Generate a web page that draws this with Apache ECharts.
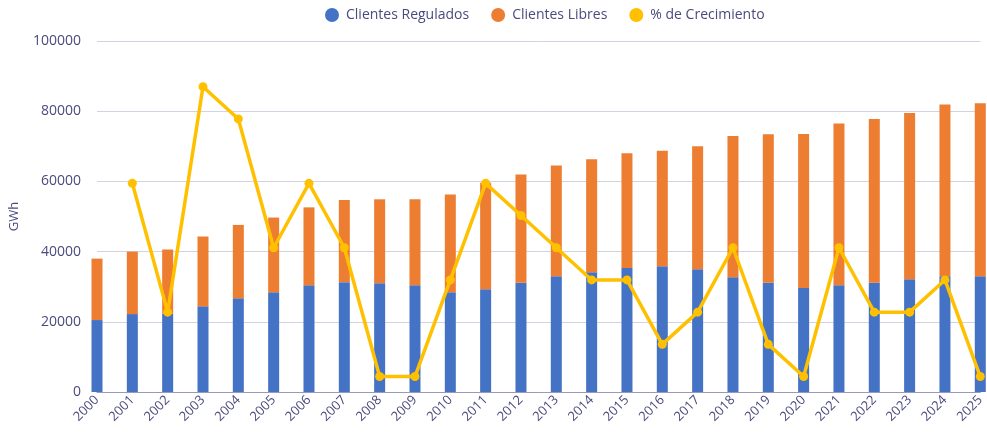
<!DOCTYPE html>
<html lang="es">
<head>
<meta charset="utf-8">
<script src="https://cdn.jsdelivr.net/npm/echarts@6/dist/echarts.min.js"></script>
<style>
    html, body { margin: 0; padding: 0; background: #fff; }
    #main { width: 987px; height: 434px; }
</style>
</head>
<body>
<div id="main"></div>
<script>
    // años
    var years = ['2000', '2001', '2002', '2003', '2004', '2005', '2006', '2007', '2008', '2009',
        '2010', '2011', '2012', '2013', '2014', '2015', '2016', '2017', '2018', '2019',
        '2020', '2021', '2022', '2023', '2024', '2025'];

    // GWh
    var regulados = [20500, 22200, 22300, 24400, 26700, 28400, 30400, 31300, 31000, 30400,
        28400, 29300, 31100, 33000, 34100, 35300, 35800, 35000, 32700, 31100,
        29600, 30400, 31100, 32100, 33000, 33000];
    var totales = [38000, 40000, 40600, 44300, 47600, 49700, 52600, 54700, 54900, 54900,
        56300, 59600, 62000, 64500, 66300, 68000, 68700, 70000, 72900, 73400,
        73500, 76500, 77800, 79500, 81900, 82300];
    var libres = totales.map(function (t, i) { return t - regulados[i]; });

    // % de crecimiento
    var crecimiento = [null, 6, 2, 9, 8, 4, 6, 4, 0, 0,
        3, 6, 5, 4, 3, 3, 1, 2, 4, 1,
        0, 4, 2, 2, 3, 0];

    var yTicks = [0, 20000, 40000, 60000, 80000, 100000];

    var textColor = '#4b4a7d';

    var option = {
        animation: false,
        textStyle: { fontFamily: 'Open Sans' },
        legend: {
            top: 3,
            left: 320,
            itemWidth: 18,
            itemHeight: 14,
            itemGap: 22,
            icon: 'circle',
            textStyle: { color: textColor, fontSize: 14, fontFamily: 'Open Sans' },
            data: ['Clientes Regulados', 'Clientes Libres', '% de Crecimiento']
        },
        grid: { left: 96, right: 2, top: 41, bottom: 42 },
        xAxis: {
            type: 'category',
            data: years,
            boundaryGap: false,
            axisLine: { lineStyle: { color: '#9a98bd', width: 1 } },
            axisTick: { show: false },
            axisLabel: {
                interval: 0,
                rotate: 45,
                margin: 6,
                color: textColor,
                fontSize: 13,
                fontFamily: 'Open Sans'
            }
        },
        yAxis: [{
            type: 'value',
            min: yTicks[0],
            max: yTicks[yTicks.length - 1],
            interval: 20000,
            name: 'GWh',
            nameLocation: 'middle',
            nameGap: 76,
            nameRotate: 90,
            nameTextStyle: { color: textColor, fontSize: 13, fontFamily: 'Open Sans' },
            axisLine: { show: false },
            axisTick: { show: false },
            axisLabel: {
                color: textColor, fontSize: 14, margin: 16, fontFamily: 'Open Sans',
                formatter: function (v) { return String(v); }
            },
            splitLine: { lineStyle: { color: '#d3d2e0', width: 1 } }
        }, {
            type: 'value',
            show: false,
            min: -0.48,
            max: 10.42,
            splitLine: { show: false }
        }],
        series: [{
            name: 'Clientes Regulados',
            type: 'bar',
            stack: 'total',
            barWidth: 11,
            clip: false,
            itemStyle: { color: '#4472c4' },
            data: regulados
        }, {
            name: 'Clientes Libres',
            type: 'bar',
            stack: 'total',
            barWidth: 11,
            clip: false,
            itemStyle: { color: '#ed7d31' },
            data: libres
        }, {
            name: '% de Crecimiento',
            type: 'line',
            yAxisIndex: 1,
            symbol: 'circle',
            symbolSize: 9,
            z: 5,
            lineStyle: { color: '#ffc000', width: 3.5 },
            itemStyle: { color: '#ffc000' },
            data: crecimiento
        }]
    };

    var myChart = echarts.init(document.getElementById('main'));
    myChart.setOption(option);
</script>
</body>
</html>
